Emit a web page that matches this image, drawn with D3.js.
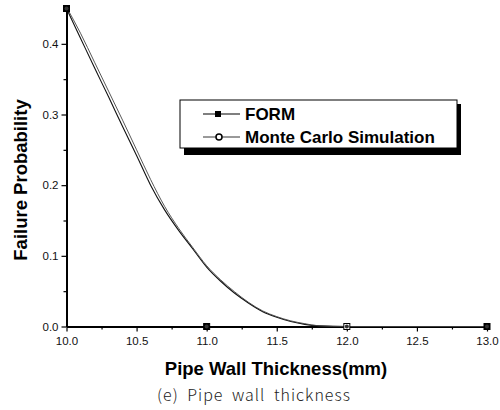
<!DOCTYPE html>
<html>
<head>
<meta charset="utf-8">
<script src="https://cdn.jsdelivr.net/npm/d3@7"></script>
<style>
  body { margin: 0; background: #fff; }
  svg { display: block; }
</style>
</head>
<body>
<svg width="500" height="410"></svg>
<script>
const thickness = [10.0, 10.1, 10.2, 10.3, 10.4, 10.5, 10.6, 10.7, 10.8, 10.9, 11.0,
  11.1, 11.2, 11.3, 11.4, 11.5, 11.6, 11.7, 11.8, 12.0, 13.0];
const formProb = [0.450, 0.408, 0.366, 0.325, 0.283, 0.242, 0.200, 0.165, 0.136, 0.110, 0.084,
  0.064, 0.047, 0.033, 0.021, 0.013, 0.007, 0.003, 0.001, 0, 0];
const mcsProb = [0.452, 0.415, 0.374, 0.333, 0.292, 0.250, 0.208, 0.170, 0.139, 0.112, 0.086,
  0.066, 0.049, 0.034, 0.022, 0.014, 0.008, 0.004, 0.001, 0, 0];
const markerX = [10, 11, 12, 13];
const formMarkers = [0.45, 0, 0, 0];
const mcsMarkers = [0.45, 0, 0, 0];
const xTicks = [10.0, 10.5, 11.0, 11.5, 12.0, 12.5, 13.0];
const yTicks = [0.0, 0.1, 0.2, 0.3, 0.4];
const legendNames = ["FORM", "Monte Carlo Simulation"];

const svg = d3.select('svg');
const x = d3.scaleLinear().domain([10, 13]).range([66.5, 487]);
const y = d3.scaleLinear().domain([0, 0.45]).range([326.5, 8.5]);

// minor ticks
const xMinor = d3.range(10.25, 13, 0.5);
const yMinor = d3.range(0.05, 0.45, 0.1);

const xAxis = svg.append('g')
  .attr('transform', 'translate(0,326.5)')
  .call(d3.axisBottom(x).tickValues(xTicks).tickFormat(d3.format('.1f')).tickSize(5).tickSizeOuter(0));
svg.append('g')
  .attr('transform', 'translate(0,326.5)')
  .call(d3.axisBottom(x).tickValues(xMinor).tickFormat('').tickSize(3).tickSizeOuter(0))
  .select('.domain').remove();

const yAxis = svg.append('g')
  .attr('transform', 'translate(66.5,0)')
  .call(d3.axisLeft(y).tickValues(yTicks).tickFormat(d3.format('.1f')).tickSize(5).tickSizeOuter(0));
svg.append('g')
  .attr('transform', 'translate(66.5,0)')
  .call(d3.axisLeft(y).tickValues(yMinor).tickFormat('').tickSize(3).tickSizeOuter(0))
  .select('.domain').remove();

svg.selectAll('.domain').attr('stroke', '#000').attr('stroke-width', 2);
svg.selectAll('.tick line').attr('stroke', '#000').attr('stroke-width', 1.2);
svg.selectAll('.tick text')
  .attr('font-family', 'Arial, "Liberation Sans", sans-serif')
  .attr('font-size', 11.5)
  .attr('fill', '#111');
xAxis.selectAll('.tick text').attr('dy', '0.9em');
yAxis.selectAll('.tick text').attr('x', -8);

// curves
const line = d3.line()
  .x((d, i) => x(thickness[i]))
  .y(d => y(d))
  .curve(d3.curveMonotoneX);

svg.append('path').datum(formProb)
  .attr('d', line).attr('fill', 'none').attr('stroke', '#111').attr('stroke-width', 1.1);
svg.append('path').datum(mcsProb)
  .attr('d', line).attr('fill', 'none').attr('stroke', '#444').attr('stroke-width', 0.9);

// markers
svg.selectAll('.fm').data(formMarkers).enter().append('rect')
  .attr('x', (d, i) => x(markerX[i]) - 3)
  .attr('y', d => y(d) - 3)
  .attr('width', 6).attr('height', 6)
  .attr('fill', (d, i) => i === 2 ? '#fff' : '#000')
  .attr('stroke', '#000').attr('stroke-width', 1);
svg.selectAll('.mm').data(mcsMarkers).enter().append('circle')
  .attr('cx', (d, i) => x(markerX[i]))
  .attr('cy', d => y(d))
  .attr('r', 2)
  .attr('fill', '#333');

// legend
const lg = svg.append('g');
lg.append('rect').attr('x', 184).attr('y', 104).attr('width', 277).attr('height', 51).attr('fill', '#000');
lg.append('rect').attr('x', 180).attr('y', 100).attr('width', 277).attr('height', 48)
  .attr('fill', '#fff').attr('stroke', '#000').attr('stroke-width', 1);

legendNames.forEach((name, i) => {
  const ly = 114 + i * 23;
  lg.append('line').attr('x1', 203).attr('x2', 240).attr('y1', ly).attr('y2', ly)
    .attr('stroke', '#000').attr('stroke-width', i === 0 ? 1.2 : 0.8);
  if (i === 0) {
    lg.append('rect').attr('x', 215).attr('y', ly - 3).attr('width', 6).attr('height', 6).attr('fill', '#000');
  } else {
    lg.append('circle').attr('cx', 219).attr('cy', ly).attr('r', 3)
      .attr('fill', '#fff').attr('stroke', '#000').attr('stroke-width', 1.5);
  }
  lg.append('text').attr('x', 245).attr('y', ly + 6)
    .attr('font-family', 'Arial, "Liberation Sans", sans-serif')
    .attr('font-weight', 'bold').attr('font-size', 17)
    .text(name);
});

// axis titles
svg.append('text')
  .attr('transform', 'translate(27,180) rotate(-90)')
  .attr('text-anchor', 'middle')
  .attr('font-family', 'Arial, "Liberation Sans", sans-serif')
  .attr('font-weight', 'bold').attr('font-size', 18.5)
  .text('Failure Probability');

svg.append('text')
  .attr('x', 276).attr('y', 375)
  .attr('text-anchor', 'middle')
  .attr('font-family', 'Arial, "Liberation Sans", sans-serif')
  .attr('font-weight', 'bold').attr('font-size', 18.5)
  .text('Pipe Wall Thickness(mm)');

svg.append('text')
  .attr('x', 254).attr('y', 401)
  .attr('text-anchor', 'middle')
  .attr('font-family', '"Noto Sans CJK KR", "DejaVu Sans", sans-serif')
  .attr('font-size', 16).attr('letter-spacing', 1).attr('word-spacing', 4)
  .attr('font-weight', 300)
  .attr('fill', '#222')
  .text('(e) Pipe wall thickness');
</script>
</body>
</html>
